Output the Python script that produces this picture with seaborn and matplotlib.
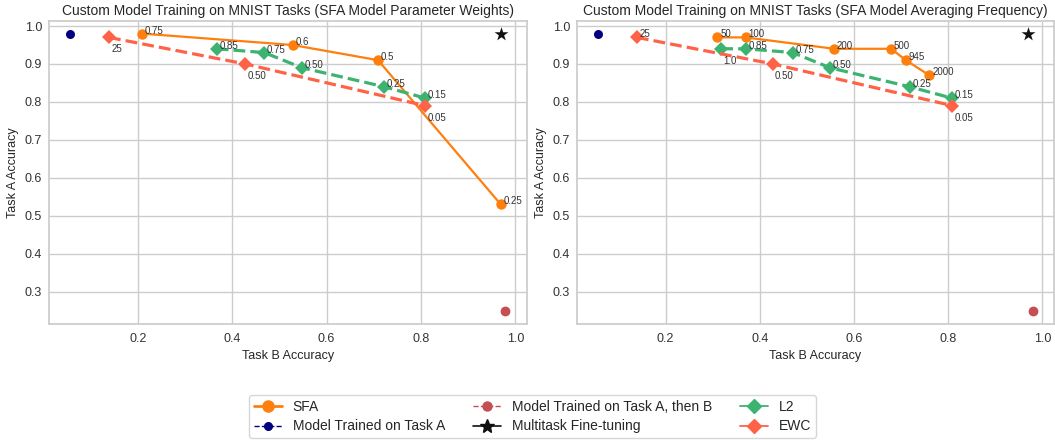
import matplotlib
matplotlib.use("Agg")
import matplotlib.pyplot as plt
from matplotlib.lines import Line2D
import seaborn as sns
import numpy as np

# ---------------- data ----------------
# Left panel: SFA model parameter weights
sfa_w_x = [0.209, 0.528, 0.709, 0.969]
sfa_w_y = [0.98, 0.95, 0.91, 0.53]
sfa_w_labels = ["0.75", "0.6", "0.5", "0.25"]

# Right panel: SFA model averaging frequency
sfa_f_x = [0.310, 0.370, 0.558, 0.679, 0.710, 0.760]
sfa_f_y = [0.97, 0.97, 0.94, 0.94, 0.91, 0.87]
sfa_f_labels = ["50", "100", "200", "500", "945", "2000"]

# L2 (left panel)
l2_w_x = [0.367, 0.468, 0.548, 0.722, 0.809]
l2_w_y = [0.94, 0.93, 0.89, 0.84, 0.81]
l2_w_labels = ["0.85", "0.75", "0.50", "0.25", "0.15"]

# L2 (right panel)
l2_f_x = [0.318, 0.370, 0.470, 0.549, 0.718, 0.808]
l2_f_y = [0.94, 0.94, 0.93, 0.89, 0.84, 0.81]
l2_f_labels = ["1.0", "0.85", "0.75", "0.50", "0.25", "0.15"]

# EWC (both panels)
ewc_x = [0.139, 0.428, 0.809]
ewc_y = [0.97, 0.90, 0.79]
ewc_labels = ["25", "0.50", "0.05"]

# Baselines
task_a_x, task_a_y = [0.057], [0.98]
task_ab_x, task_ab_y = [0.979], [0.25]
multitask_x, multitask_y = [0.969], [0.98]

titles = ["Custom Model Training on MNIST Tasks (SFA Model Parameter Weights)",
          "Custom Model Training on MNIST Tasks (SFA Model Averaging Frequency)"]

# ---------------- style ----------------
sns.set_theme(style="whitegrid")
plt.rcParams["font.family"] = ["Liberation Sans", "DejaVu Sans"]

C_SFA = "#ff7f0e"
C_A = "#000080"
C_AB = "#c44e52"
C_L2 = "#3cb371"
C_EWC = "#ff6347"
C_STAR = "#111111"

fig = plt.figure(figsize=(10.55, 4.4), dpi=100)
W, H = 1055.0, 440.0
ax1 = fig.add_axes([49 / W, (H - 323.7) / H, 478 / W, 303 / H])
ax2 = fig.add_axes([577 / W, (H - 323.7) / H, 477 / W, 303 / H])

panels = [
    (ax1, sfa_w_x, sfa_w_y, sfa_w_labels, l2_w_x, l2_w_y, l2_w_labels,
     [False] * 5, [True, True, True]),
    (ax2, sfa_f_x, sfa_f_y, sfa_f_labels, l2_f_x, l2_f_y, l2_f_labels,
     [True, False, False, False, False, False], [False, True, True]),
]

ANN_KW = dict(textcoords="offset points", fontsize=7, color="#333333")


def annotate(ax, xs, ys, labels, below=None):
    for i, (x, y, t) in enumerate(zip(xs, ys, labels)):
        if below is not None and below[i]:
            ax.annotate(t, (x, y), xytext=(1.5, -5), va="top", ha="left", **ANN_KW)
        else:
            ax.annotate(t, (x, y), xytext=(2, 0), va="baseline", ha="left", **ANN_KW)


for k, (ax, sx, sy, sl, lx, ly, ll, l2_below, ewc_below) in enumerate(panels):
    sns.lineplot(x=sx, y=sy, ax=ax, color=C_SFA, marker="o", markersize=7.5,
                 markeredgewidth=0, linewidth=1.6, sort=False, estimator=None)
    sns.scatterplot(x=task_a_x, y=task_a_y, ax=ax, color=C_A, s=42, linewidth=0)
    sns.scatterplot(x=task_ab_x, y=task_ab_y, ax=ax, color=C_AB, s=50, linewidth=0)
    sns.scatterplot(x=multitask_x, y=multitask_y, ax=ax, color=C_STAR, marker="*",
                    s=110, linewidth=0)
    sns.lineplot(x=lx, y=ly, ax=ax, color=C_L2, marker="D", markersize=7,
                 markeredgewidth=0, linewidth=2.3, linestyle="--", sort=False,
                 estimator=None)
    sns.lineplot(x=ewc_x, y=ewc_y, ax=ax, color=C_EWC, marker="D", markersize=7,
                 markeredgewidth=0, linewidth=2.3, linestyle="--", sort=False,
                 estimator=None)

    annotate(ax, sx, sy, sl)
    annotate(ax, lx, ly, ll, l2_below)
    annotate(ax, ewc_x, ewc_y, ewc_labels, ewc_below)

    ax.set_title(titles[k], fontsize=10, pad=4)
    ax.set_xlabel("Task B Accuracy", fontsize=9, labelpad=3)
    ax.set_ylabel("Task A Accuracy", fontsize=9, labelpad=4)
    ax.tick_params(axis="both", labelsize=9, labelcolor="#333333", length=0)
    ax.tick_params(axis="y", pad=5)
    ax.tick_params(axis="x", pad=7)
    ax.set_xticks([0.2, 0.4, 0.6, 0.8, 1.0])
    ax.set_yticks([0.3, 0.4, 0.5, 0.6, 0.7, 0.8, 0.9, 1.0])
    ax.set_xlim(0.0119, 1.0246)
    ax.set_ylim(0.2157, 1.014)

handles = [
    Line2D([], [], color=C_SFA, marker="o", markersize=8, linestyle="-", lw=2),
    Line2D([], [], color=C_A, marker="o", markersize=5.5, linestyle="--", lw=1),
    Line2D([], [], color=C_AB, marker="o", markersize=6.5, linestyle="--", lw=1),
    Line2D([], [], color=C_STAR, marker="*", markersize=10, linestyle="-", lw=1.2),
    Line2D([], [], color=C_L2, marker="D", markersize=7, linestyle="-", lw=1.3),
    Line2D([], [], color=C_EWC, marker="D", markersize=7, linestyle="-", lw=1.3),
]
labels = ["SFA", "Model Trained on Task A", "Model Trained on Task A, then B",
          "Multitask Fine-tuning", "L2", "EWC"]
fig.legend(handles, labels, loc="lower center", ncol=3, fontsize=10,
           bbox_to_anchor=(532.5 / W, 0.004), borderaxespad=0, frameon=True,
           columnspacing=2.0, handletextpad=0.8, borderpad=0.35, labelspacing=0.4)

fig.savefig("out.png", dpi=100)
